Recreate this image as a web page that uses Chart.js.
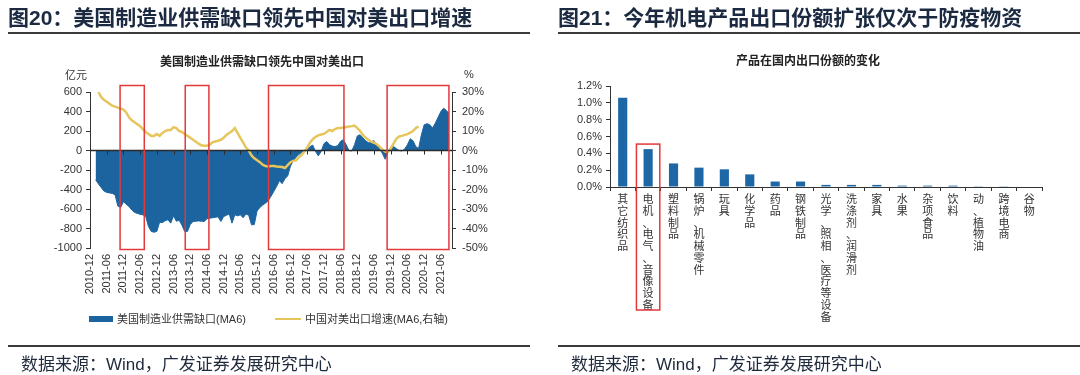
<!DOCTYPE html>
<html>
<head>
<meta charset="utf-8">
<script src="https://cdn.jsdelivr.net/npm/chart.js@4.4.1/dist/chart.umd.min.js"></script>
<style>
  html, body { margin: 0; padding: 0; background: #fff; }
  body { width: 1080px; height: 375px; position: relative; overflow: hidden; font-family: "Noto Sans CJK SC", "Liberation Sans", sans-serif; }
  .abs { position: absolute; white-space: nowrap; }
  canvas { position: absolute; top: 0; }
  .hdr { font-size: 21px; font-weight: 700; color: #1b2a41; top: 2px; line-height: 28px; }
  .hdr .num { font-family: "Liberation Sans", Arial, sans-serif; font-weight: 700; }
  .rule { position: absolute; height: 2px; background: #3a3a3a; }
  .foot { font-size: 17px; color: #1f2a3c; top: 351px; line-height: 24px; }
  .foot .lat { font-family: "Liberation Sans", Arial, sans-serif; }
  .ctitle { font-size: 12px; font-weight: 700; color: #222; line-height: 16px; transform: translateX(-50%); }
  .unit { font-size: 11px; color: #333; line-height: 14px; }
  .leg { font-size: 11px; color: #333; line-height: 14px; top: 311px; }
  .leg .lat { font-family: "Liberation Sans", Arial, sans-serif; }
</style>
</head>
<body>
<canvas id="c1" width="540" height="375" style="left:0;width:540px;height:375px;"></canvas>
<canvas id="c2" width="540" height="375" style="left:540px;width:540px;height:375px;"></canvas>

<div class="abs hdr" style="left:8px;">图<span class="num">20</span>：美国制造业供需缺口领先中国对美出口增速</div>
<div class="rule" style="left:8px;width:522px;top:32px;"></div>
<div class="abs hdr" style="left:558px;">图<span class="num">21</span>：今年机电产品出口份额扩张仅次于防疫物资</div>
<div class="rule" style="left:558px;width:522px;top:32px;"></div>

<div class="abs ctitle" style="left:262px;top:53px;">美国制造业供需缺口领先中国对美出口</div>
<div class="abs unit" style="left:65px;top:67px;">亿元</div>
<div class="abs unit" style="left:464px;top:67px;font-family:'Liberation Sans',Arial,sans-serif;">%</div>

<div class="abs leg" style="left:89px;"><span style="display:inline-block;width:24px;height:6px;background:#1c64a0;vertical-align:middle;margin-right:4px;position:relative;top:-1px;"></span>美国制造业供需缺口<span class="lat">(MA6)</span></div>
<div class="abs leg" style="left:275px;"><span style="display:inline-block;width:26px;height:2px;background:#e6c65c;vertical-align:middle;margin-right:4px;position:relative;top:-1px;"></span>中国对美出口增速<span class="lat">(MA6,</span>右轴<span class="lat">)</span></div>

<div class="abs ctitle" style="left:808px;top:52px;">产品在国内出口份额的变化</div>

<div class="rule" style="left:8px;width:522px;top:345px;"></div>
<div class="rule" style="left:558px;width:522px;top:345px;"></div>
<div class="abs foot" style="left:21px;">数据来源：<span class="lat">Wind</span>，广发证券发展研究中心</div>
<div class="abs foot" style="left:571px;">数据来源：<span class="lat">Wind</span>，广发证券发展研究中心</div>

<script>
// ---------- Chart 1 data (monthly, 2010-12 .. 2021-10) ----------
const startYear = 2010, startMonth = 12, monthCount = 131;
const monthLabels = [];
for (let i = 0; i < monthCount; i++) {
  const m0 = startMonth - 1 + i;
  const y = startYear + Math.floor(m0 / 12);
  const m = (m0 % 12) + 1;
  monthLabels.push(y + '-' + (m < 10 ? '0' + m : m));
}

// 美国制造业供需缺口(MA6), 亿元
const usGap = [
  null, null, -300, -340, -380, -415, -430, -435, -440, -455,
  -570, -585, -525, -550, -575, -610, -635, -645, -655, -660,
  -675, -780, -830, -838, -830, -735, -740, -720, -710, -745,
  -670, -725, -715, -765, -830, -830, -760, -728, -725, -722,
  -725, -728, -700, -694, -690, -685, -680, -728, -677, -665,
  -650, -745, -660, -670, -660, -690, -650, -665, -762, -760,
  -620, -585, -560, -540, -515, -470, -420, -370, -310, -340,
  -290, -260, -160, -105, -70, -40, -20, -8, 10, 40,
  55, -10, -55, -10, 70, 92, 60, 45, 41, 50,
  95, 110, 60, 0, -5, 60, 150, 161, 130, 100,
  80, 92, 100, 60, 20, -30, -90, -20, 35, 41,
  20, 0, -5, 15, 60, 120, 100, 40, 20, 160,
  263, 275, 265, 230, 280, 340, 400, 434, 410, 375,
  null
];

// 中国对美出口增速(MA6, 右轴), %
const cnExport = [
  null, null, null, 30, 27.5, 26, 25, 24, 23, 22.5,
  22, 21.5, 21, 19.5, 17, 15.5, 14.5, 13.5, 12.5, 11,
  9.5, 8.5, 7.5, 7.5, 8.5, 7.5, 9, 10, 10.5, 10.5,
  12, 11.5, 10, 9.5, 8.5, 7.5, 6.5, 5.5, 4.5, 3.5,
  2.7, 2.5, 2.5, 3, 4.2, 4.6, 5, 5.5, 6.5, 8,
  9, 10, 11.5, 9, 6.5, 4, 1.5, 0, -2.5, -4,
  -5, -6, -7.3, -8, -8.2, -8, -8, -8.2, -8.3, -8.5,
  -9, -7.5, -6, -5.3, -5, -3.5, -2.2, -0.5, 1.5, 4,
  5.8, 7, 7.8, 8.2, 8.5, 9.5, 10.6, 10, 11, 11.5,
  11.5, 11.8, 12, 12.3, 12.5, 12.8, 11.5, 10, 8, 6.5,
  5.5, 4.5, 4, 3.2, 2, 0.5, -0.5, -0.8, 1, 3.5,
  6, 7.2, 7.5, 8, 8.4, 9.2, 10, 11.5, 12.3, null,
  null, null, null, null, null, null, null, null, null, null,
  null
];

const leftTicks = { min: -1000, max: 600, step: 200 };
const rightTicks = { min: -50, max: 30, step: 10 };
// highlighted periods (month index ranges on the category axis)
const highlightRanges = [[10.8, 19.5], [34.2, 42.7], [64.1, 91.2], [106.7, 128.9]];

// ---------- Chart 2 data ----------
const products = ['其它纺织品', '电机、电气、音像设备', '塑料制品', '锅炉、机械零件', '玩具', '化学品', '药品', '钢铁制品',
  '光学、照相、医疗等设备', '洗涤剂、润滑剂', '家具', '水果', '杂项食品', '饮料', '动、植物油', '跨境电商', '谷物'];
const shareChange = [1.06, 0.45, 0.28, 0.23, 0.21, 0.15, 0.065, 0.065, 0.025, 0.025, 0.025, 0.016, 0.016, 0.016, 0.009, 0.009, 0];
const shareTicks = { min: 0, max: 1.2, step: 0.2 };
const highlightProduct = 1;

const tickFont = { family: "'Liberation Sans', Arial, sans-serif", size: 11 };
const axisColor = '#333';

// ---------- Chart 1 ----------
const zeroLinePlugin = {
  id: 'zeroLine',
  afterDatasetsDraw(chart) {
    const { ctx, chartArea, scales } = chart;
    const y0 = scales.y.getPixelForValue(0);
    ctx.save();
    ctx.strokeStyle = '#2b2b2b';
    ctx.lineWidth = 1.5;
    ctx.beginPath();
    ctx.moveTo(chartArea.left, y0);
    ctx.lineTo(chartArea.right, y0);
    ctx.stroke();
    ctx.lineWidth = 1;
    for (let i = 6; i < monthLabels.length; i += 6) {
      const x = Math.round(scales.x.getPixelForValue(i)) + 0.5;
      ctx.beginPath();
      ctx.moveTo(x, y0);
      ctx.lineTo(x, y0 + 4);
      ctx.stroke();
    }
    ctx.restore();
  }
};
const boxesPlugin = {
  id: 'boxes',
  afterDraw(chart) {
    const { ctx, chartArea, scales } = chart;
    ctx.save();
    ctx.strokeStyle = '#e2393b';
    ctx.lineWidth = 1.5;
    highlightRanges.forEach(([a, b]) => {
      const x1 = scales.x.getPixelForValue(a);
      const x2 = scales.x.getPixelForValue(b);
      const yt = chartArea.top - 6.5, yb = chartArea.bottom + 1.5;
      ctx.strokeRect(x1, yt, x2 - x1, yb - yt);
    });
    ctx.restore();
  }
};

new Chart(document.getElementById('c1'), {
  type: 'line',
  data: {
    labels: monthLabels,
    datasets: [
      {
        label: '美国制造业供需缺口(MA6)',
        data: usGap,
        yAxisID: 'y',
        fill: 'origin',
        backgroundColor: '#1c64a0',
        borderColor: '#1c64a0',
        borderWidth: 1,
        pointRadius: 0,
        tension: 0,
        order: 2
      },
      {
        label: '中国对美出口增速(MA6,右轴)',
        data: cnExport,
        yAxisID: 'y1',
        fill: false,
        borderColor: '#e6c65c',
        borderWidth: 2.5,
        pointRadius: 0,
        tension: 0,
        order: 1
      }
    ]
  },
  options: {
    responsive: false,
    animation: false,
    events: [],
    layout: { padding: { top: 92, left: 0, right: 0, bottom: 72 } },
    plugins: { legend: { display: false }, tooltip: { enabled: false } },
    scales: {
      x: {
        type: 'category',
        offset: false,
        grid: { display: false, drawTicks: false },
        border: { display: false },
        afterFit(s) { s.height = 55; },
        ticks: {
          autoSkip: false, minRotation: 90, maxRotation: 90, padding: 6,
          font: tickFont, color: axisColor,
          callback(v, i) { return i % 6 === 0 ? monthLabels[i] : ''; }
        }
      },
      y: {
        position: 'left',
        min: leftTicks.min, max: leftTicks.max,
        afterFit(s) { s.width = 90; },
        grid: { drawOnChartArea: false, tickLength: 4, color: axisColor },
        border: { display: true, color: axisColor, width: 1 },
        ticks: { stepSize: leftTicks.step, padding: 4, font: tickFont, color: axisColor, callback: v => String(v) }
      },
      y1: {
        position: 'right',
        min: rightTicks.min, max: rightTicks.max,
        afterFit(s) { s.width = 88; },
        grid: { drawOnChartArea: false, tickLength: 4, color: axisColor },
        border: { display: true, color: axisColor, width: 1 },
        ticks: { stepSize: rightTicks.step, padding: 6, font: tickFont, color: axisColor, callback: v => v + '%' }
      }
    }
  },
  plugins: [zeroLinePlugin, boxesPlugin]
});

// ---------- Chart 2 ----------
const productBoxPlugin = {
  id: 'productBox',
  afterDraw(chart) {
    const { ctx, chartArea, scales } = chart;
    const xs = scales.x;
    const w = xs.getPixelForValue(1) - xs.getPixelForValue(0);
    const cx = xs.getPixelForValue(highlightProduct);
    const yt = scales.y.getPixelForValue(0.51);
    const yb = chartArea.bottom + 123;
    ctx.save();
    ctx.strokeStyle = '#e2393b';
    ctx.lineWidth = 1.5;
    ctx.strokeRect(cx - w * 0.46, yt, w * 0.92, yb - yt);
    ctx.restore();
  }
};

new Chart(document.getElementById('c2'), {
  type: 'bar',
  data: {
    labels: products.map(p => Array.from(p)),
    datasets: [{
      label: '产品在国内出口份额的变化',
      data: shareChange,
      backgroundColor: '#1d67a6',
      borderWidth: 0,
      barPercentage: 0.36,
      categoryPercentage: 1
    }]
  },
  options: {
    responsive: false,
    animation: false,
    events: [],
    layout: { padding: { top: 86, left: 0, right: 38, bottom: 20 } },
    plugins: { legend: { display: false }, tooltip: { enabled: false } },
    scales: {
      x: {
        offset: true,
        afterFit(s) { s.height = 168; },
        grid: { offset: true, drawOnChartArea: false, tickLength: 4, color: axisColor },
        border: { display: true, color: axisColor, width: 1 },
        ticks: {
          autoSkip: false, maxRotation: 0, minRotation: 0, padding: 2,
          font: { family: "'Noto Sans CJK SC', sans-serif", size: 11, lineHeight: 1.07 },
          color: axisColor
        }
      },
      y: {
        min: shareTicks.min, max: shareTicks.max,
        afterFit(s) { s.width = 70; },
        grid: { drawOnChartArea: false, tickLength: 4, color: axisColor },
        border: { display: true, color: axisColor, width: 1 },
        ticks: { stepSize: shareTicks.step, padding: 4, font: tickFont, color: axisColor, callback: v => v.toFixed(1) + '%' }
      }
    }
  },
  plugins: [productBoxPlugin]
});
</script>
</body>
</html>
